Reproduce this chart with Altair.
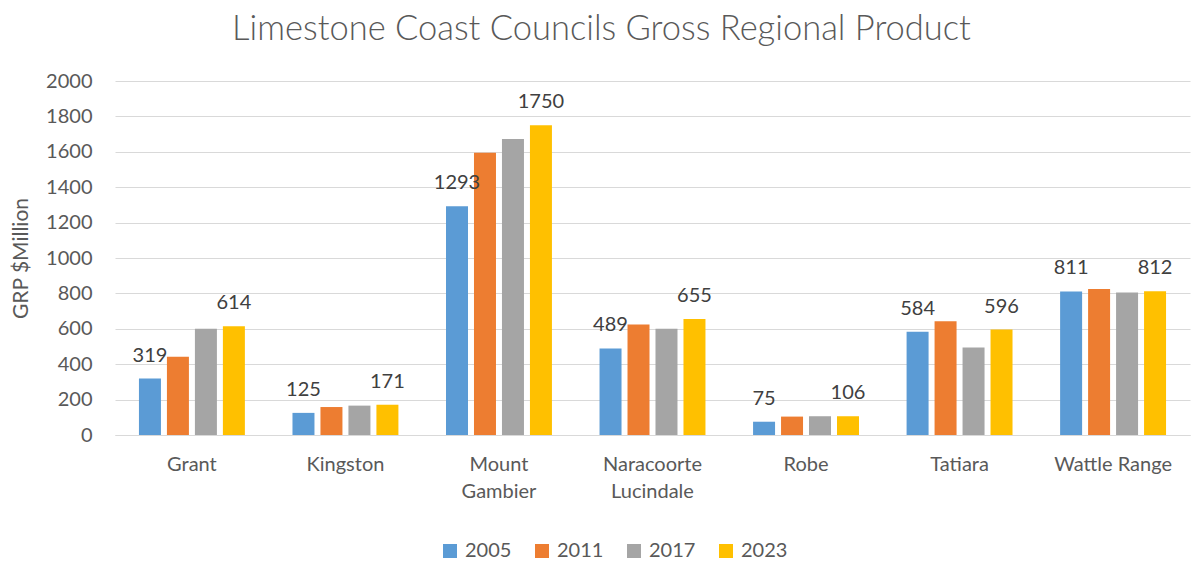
import altair as alt
import pandas as pd

councils = ["Grant", "Kingston", "Mount Gambier", "Naracoorte Lucindale", "Robe", "Tatiara", "Wattle Range"]
years = ["2005", "2011", "2017", "2023"]
v2005 = [319, 125, 1293, 489, 75, 584, 811]
v2011 = [442, 158, 1595, 625, 104, 642, 825]
v2017 = [600, 166, 1673, 600, 106, 495, 805]
v2023 = [614, 171, 1750, 655, 106, 596, 812]
labelled_years = ["2005", "2023"]
y_ticks = [0, 200, 400, 600, 800, 1000, 1200, 1400, 1600, 1800, 2000]
colors = ["#5B9BD5", "#ED7D31", "#A5A5A5", "#FFC000"]

series = {"2005": v2005, "2011": v2011, "2017": v2017, "2023": v2023}
rows = []
for y in years:
    for c, v in zip(councils, series[y]):
        rows.append({"council": c, "year": y, "value": v,
                     "label": str(v) if y in labelled_years else ""})
df = pd.DataFrame(rows)

FONT = "Lato"
TXT = "#595959"

x = alt.X("council:N", sort=councils, title=None,
          scale=alt.Scale(paddingInner=0.31, paddingOuter=0.156),
          axis=alt.Axis(labelAngle=0, labelFont=FONT, labelFontSize=20, labelColor=TXT,
                        labelPadding=19, labelLineHeight=27, ticks=False,
                        domainColor="#D9D9D9", labelBaseline="top",
                        labelExpr="indexof(datum.value, 'Wattle') >= 0 ? datum.value : split(datum.value, ' ')"))
y = alt.Y("value:Q", title="GRP $Million",
          scale=alt.Scale(domain=[0, 2000], nice=False),
          axis=alt.Axis(values=y_ticks, tickCount=25, format="d", labelOverlap=False,
                        labelFont=FONT, labelFontSize=20,
                        labelColor=TXT, labelPadding=23, ticks=False, domain=False,
                        gridColor="#D9D9D9", gridWidth=1,
                        titleFont=FONT, titleFontSize=21, titleFontWeight="normal",
                        titleColor=TXT, titleX=-94, titleBaseline="middle"))
xo = alt.XOffset("year:N", sort=years, scale=alt.Scale(paddingInner=0.214, paddingOuter=0))

base = alt.Chart(df).encode(x=x, xOffset=xo, y=y)

bars = base.mark_bar().encode(
    color=alt.Color("year:N", sort=years, scale=alt.Scale(domain=years, range=colors),
                    legend=alt.Legend(title=None, orient="none", legendX=325, legendY=460,
                                      direction="horizontal", symbolType="square",
                                      symbolSize=196, symbolStrokeWidth=0, labelFont=FONT,
                                      labelFontSize=20, labelColor=TXT, labelOffset=5,
                                      columnPadding=20)),
)

labels = base.mark_text(font=FONT, fontSize=20, color="#404040", baseline="alphabetic",
                        dy=-17).encode(text="label:N")

chart = alt.layer(bars, labels).properties(
    width=1075, height=354,
    title=alt.TitleParams("Limestone Coast Councils Gross Regional Product", font=FONT,
                          fontSize=34.5, fontWeight=300, color=TXT, anchor="middle",
                          dx=-51, offset=24),
    autosize=alt.AutoSizeParams(type="none"),
    padding={"left": 107, "top": 73, "right": 4, "bottom": 126},
).configure_view(stroke=None)

chart.save("out.html", embed_options={"renderer": "svg", "actions": False})
